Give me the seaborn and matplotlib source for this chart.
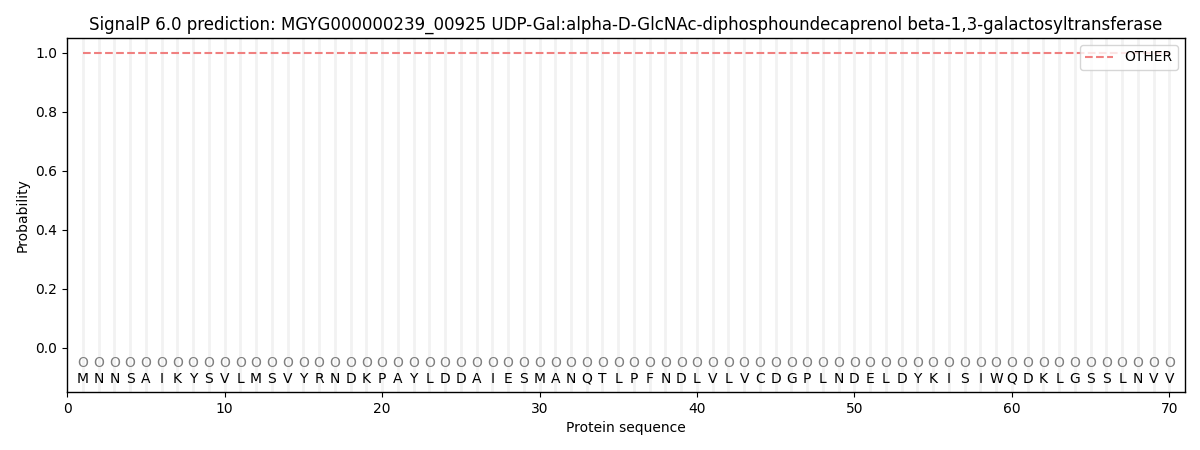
import matplotlib
matplotlib.use("Agg")
import matplotlib.pyplot as plt
import seaborn as sns
import pandas as pd
import numpy as np

sequence = list("MNNSAIKYSVLMSVYRNDKPAYLDDAIESMANQTLPFNDLVLVCDGPLNDELDYKISIWQDKLGSSLNVV")
positions = list(range(1, len(sequence) + 1))
other_prob = [1.0] * len(sequence)
pred_labels = ["O"] * len(sequence)

sns.set_style("white")
plt.rcParams['font.family'] = ['DejaVu Sans']
plt.rcParams['text.color'] = 'black'
plt.rcParams['axes.labelcolor'] = 'black'
plt.rcParams['xtick.color'] = 'black'
plt.rcParams['ytick.color'] = 'black'

fig, ax = plt.subplots(figsize=(12, 4.5), dpi=100)
fig.subplots_adjust(left=0.056, right=0.9875, top=0.9156, bottom=0.129)

for p in positions:
    ax.axvline(p, color="#f2f2f2", linewidth=2.0, zorder=0)

df = pd.DataFrame({"pos": positions, "prob": other_prob})
sns.lineplot(data=df, x="pos", y="prob", ax=ax, color="#f08080", linestyle="--",
             linewidth=1.5, label="OTHER")

for p, aa, lab in zip(positions, sequence, pred_labels):
    ax.text(p, -0.10, aa, ha="center", va="center_baseline", fontsize=10, color="black")
    ax.text(p, -0.047, lab, ha="center", va="center_baseline", fontsize=10, color="#808080")

ax.set_xlim(0, 71)
ax.set_ylim(-0.15, 1.05)
ax.set_yticks([0.0, 0.2, 0.4, 0.6, 0.8, 1.0])
ax.set_xticks([0, 10, 20, 30, 40, 50, 60, 70])
ax.tick_params(axis="both", which="both", left=True, bottom=True, length=3.5, colors="black")
for s in ax.spines.values():
    s.set_color("black")
    s.set_linewidth(1.0)
ax.set_xlabel("Protein sequence")
ax.set_ylabel("Probability")
ax.set_title("SignalP 6.0 prediction: MGYG000000239_00925 UDP-Gal:alpha-D-GlcNAc-diphosphoundecaprenol beta-1,3-galactosyltransferase",
             fontsize=12)
ax.legend(loc="upper right")

fig.savefig("out.png", dpi=100)
